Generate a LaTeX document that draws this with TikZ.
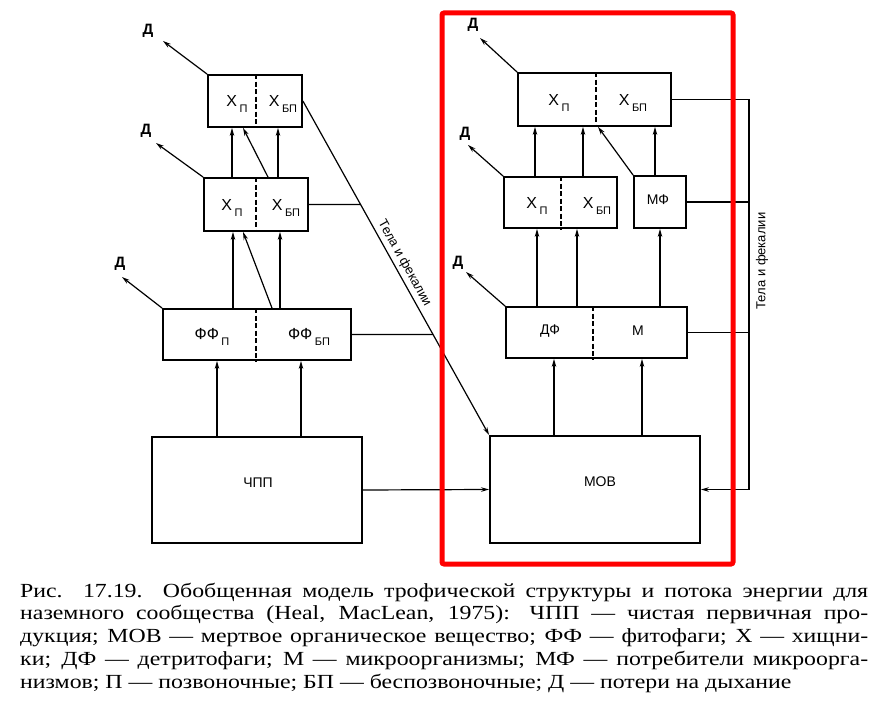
\documentclass[tikz,border=0pt]{standalone}
\usepackage{fontspec}
\setmainfont{Liberation Sans}
\newfontfamily\capfont[FakeStretch=1.19]{Liberation Serif}
\usetikzlibrary{arrows.meta,calc}

% lowered index after a box label (П, БП)
\newcommand{\lowsub}[1]{\hspace{2.5pt}\raisebox{-6pt}{\fontsize{11}{11}\selectfont #1}}

\begin{document}
\begin{tikzpicture}[x=1pt,y=-1pt,
  box/.style={draw, line width=1.8pt, inner sep=0pt, rectangle},
  arr/.style={line width=1.2pt, -{Stealth[length=8pt,width=4.5pt]}},
  conn/.style={line width=1.2pt},
  divider/.style={line width=1.4pt, dash pattern=on 5pt off 2.5pt},
  lbl/.style={font=\fontsize{16}{16}\selectfont, inner sep=0pt},
  small/.style={font=\fontsize{14}{14}\selectfont, inner sep=0pt},
  dlbl/.style={font=\bfseries\fontsize{15}{15}\selectfont, inner sep=0pt},
  capline/.style={anchor=base west, inner sep=0pt, font=\capfont\fontsize{20}{20}\selectfont},
]
\useasboundingbox (0,0) rectangle (886,708);
\fill[white] (0,0) rectangle (886,708);

% ---- boxes, left chain ----
\node[box, minimum width=94pt,  minimum height=52pt]  (L3)  at (255,101)   {};
\node[box, minimum width=104pt, minimum height=53pt]  (L2)  at (256,204.5) {};
\node[box, minimum width=188pt, minimum height=51pt]  (FF)  at (257,334.5) {};
\node[box, minimum width=210pt, minimum height=106pt] (NPP) at (257,490)   {};
% ---- boxes, right chain ----
\node[box, minimum width=153pt, minimum height=53pt]  (R3)  at (594.5,99.5) {};
\node[box, minimum width=113pt, minimum height=51pt]  (R2)  at (560.5,202.5) {};
\node[box, minimum width=52pt,  minimum height=52pt]  (MF)  at (660,202)   {};
\node[box, minimum width=181pt, minimum height=51pt]  (DM)  at (596.5,332.5) {};
\node[box, minimum width=210pt, minimum height=107pt] (MOV) at (595,489.5) {};

% ---- dashed dividers ----
\draw[divider] (256,0 |- L3.north) -- (256,0 |- L3.south);
\draw[divider] (256,0 |- L2.north) -- (256,0 |- L2.south);
\draw[divider] (256,0 |- FF.north) -- (256,0 |- FF.south);
\draw[divider] (596,0 |- R3.north) -- (596,0 |- R3.south);
\draw[divider] (561,0 |- R2.north) -- (561,0 |- R2.south);
\draw[divider] (593,0 |- DM.north) -- (593,0 |- DM.south);

% ---- box labels ----
\node[lbl] (tL3a) at (237,104) {Х\lowsub{П}};
\node[lbl] (tL3b) at (283,104) {Х\lowsub{БП}};
\node[lbl] (tL2a) at (232,208) {Х\lowsub{П}};
\node[lbl] (tL2b) at (286,208) {Х\lowsub{БП}};
\node[lbl] (tFFa) at (212,337) {ФФ\lowsub{П}};
\node[lbl] (tFFb) at (309,337) {ФФ\lowsub{БП}};
\node[small] (tNPP) at (258,483) {ЧПП};
\node[lbl] (tR3a) at (559,103) {Х\lowsub{П}};
\node[lbl] (tR3b) at (633,103) {Х\lowsub{БП}};
\node[lbl] (tR2a) at (537,206) {Х\lowsub{П}};
\node[lbl] (tR2b) at (597,206) {Х\lowsub{БП}};
\node[small] (tMF) at (658,200) {МФ};
\node[small] (tDF) at (550,331) {ДФ};
\node[small] (tM)  at (638,331) {М};
\node[small] (tMOV) at (600,482) {МОВ};

% ---- upward flows, left chain ----
\draw[arr] (217,0 |- NPP.north) -- (217,0 |- FF.south);
\draw[arr] (301,0 |- NPP.north) -- (301,0 |- FF.south);
\draw[arr] (233,0 |- FF.north) -- (233,0 |- L2.south);
\draw[arr] (272,0 |- FF.north) -- (243,0 |- L2.south);
\draw[arr] (280,0 |- FF.north) -- (280,0 |- L2.south);
\draw[arr] (232,0 |- L2.north) -- (232,0 |- L3.south);
\draw[arr] (268,0 |- L2.north) -- (243,0 |- L3.south);
\draw[arr] (278,0 |- L2.north) -- (278,0 |- L3.south);

% ---- upward flows, right chain ----
\draw[arr] (554,0 |- MOV.north) -- (554,0 |- DM.south);
\draw[arr] (642,0 |- MOV.north) -- (642,0 |- DM.south);
\draw[arr] (537,0 |- DM.north) -- (537,0 |- R2.south);
\draw[arr] (577,0 |- DM.north) -- (577,0 |- R2.south);
\draw[arr] (660,0 |- DM.north) -- (660,0 |- MF.south);
\draw[arr] (535,0 |- R2.north) -- (535,0 |- R3.south);
\draw[arr] (583,0 |- R2.north) -- (583,0 |- R3.south);
\draw[arr] (MF.north west) -- (598,0 |- R3.south);
\draw[arr] (655,0 |- MF.north) -- (655,0 |- R3.south);

% ---- respiration losses ----
\coordinate (pL3) at (163,41);
\coordinate (pL2) at (156,143);
\coordinate (pFF) at (122,277);
\coordinate (pR3) at (480,38);
\coordinate (pR2) at (468,145);
\coordinate (pDM) at (466,272);
\draw[arr] (L3.north west) -- (pL3);
\draw[arr] (L2.north west) -- (pL2);
\draw[arr] (FF.north west) -- (pFF);
\draw[arr] (R3.north west) -- (pR3);
\draw[arr] (R2.north west) -- (pR2);
\draw[arr] (DM.north west) -- (pDM);
\node[dlbl] (dL3) at (148,31)  {Д};
\node[dlbl] (dL2) at (146,131) {Д};
\node[dlbl] (dFF) at (120,264) {Д};
\node[dlbl] (dR3) at (473,25)  {Д};
\node[dlbl] (dR2) at (465,134) {Д};
\node[dlbl] (dDM) at (458,263) {Д};

% ---- bodies and faeces, left ----
\draw[arr] (L3.east) -- (MOV.north west)
  node[pos=0.5, sloped, above, inner sep=3pt, font=\fontsize{13}{13}\selectfont] (tBodyL) {Тела и фекалии};
\coordinate (hL2) at ($(L2.east)+(150,0)$);
\coordinate (hFF) at ($(FF.east)+(150,0)$);
\draw[conn] (L2.east) -- (intersection of L3.east--MOV.north west and L2.east--hL2);
\draw[conn] (FF.east) -- (intersection of L3.east--MOV.north west and FF.east--hFF);

% ---- bodies and faeces, right ----
\coordinate (rail) at (749,0);
\draw[conn] (R3.east) -- (rail |- R3.east) -- (rail |- MOV.east);
\draw[conn] (MF.east) -- (rail |- MF.east);
\draw[conn] (DM.east) -- (rail |- DM.east);
\draw[arr] (rail |- MOV.east) -- (MOV.east);
\node[rotate=90, inner sep=0pt, font=\fontsize{13}{13}\selectfont] (tBodyR) at (762,261) {Тела и фекалии};

% ---- net primary production to dead organic matter ----
\draw[arr] (NPP.east) -- (MOV.west);

% ---- highlight frame ----
\draw[red, line width=5pt, rounded corners=2pt] (442,13) rectangle (733,564);

% ---- caption ----
\node[capline] (cap1) at (20,597) {\makebox[848pt][s]{Рис. 17.19. Обобщенная модель трофической структуры и потока энергии для}};
\node[capline] (cap2) at (20,619) {\makebox[848pt][s]{наземного сообщества (Heal, MacLean, 1975): ЧПП — чистая первичная про-}};
\node[capline] (cap3) at (20,642) {\makebox[848pt][s]{дукция; МОВ — мертвое органическое вещество; ФФ — фитофаги; Х — хищни-}};
\node[capline] (cap4) at (20,665) {\makebox[848pt][s]{ки; ДФ — детритофаги; М — микроорганизмы; МФ — потребители микроорга-}};
\node[capline] (cap5) at (20,688) {низмов; П — позвоночные; БП — беспозвоночные; Д — потери на дыхание};
\end{tikzpicture}
\end{document}
